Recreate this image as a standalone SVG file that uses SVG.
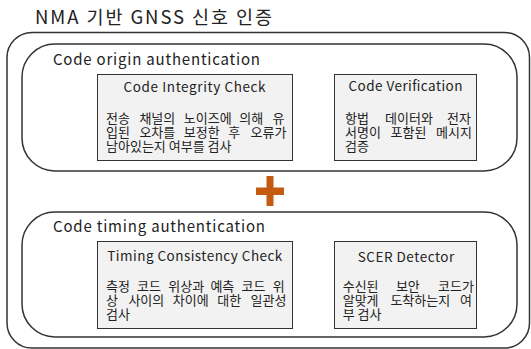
<svg xmlns="http://www.w3.org/2000/svg" width="531" height="349" viewBox="0 0 531 349">
<style>
text{font-family:"Noto Sans CJK KR","Noto Sans",sans-serif;fill:#222}
.frame{fill:none;stroke:#333;stroke-width:1.5}
.box{fill:#f2f2f2;stroke:#333;stroke-width:1}
.ttl{font-size:18.5px}
.sec{font-size:15px}
.bt{font-size:13.5px;text-anchor:middle}
.body{font-size:13px}
.plus{fill:#C55A11}
</style>
<rect width="531" height="349" fill="#fff"/>
<g id="outer">
<rect class="frame" x="7" y="32.5" width="522.5" height="315.5" rx="25" ry="25"/>
<text class="ttl" x="35" y="24" textLength="237">NMA 기반 GNSS 신호 인증</text>
</g>
<g id="origin">
<rect class="frame" x="22" y="44" width="495" height="127" rx="33" ry="33"/>
<text class="sec" x="53" y="65" textLength="207">Code origin authentication</text>
</g>
<g id="timing">
<rect class="frame" x="22" y="212" width="495" height="125" rx="33" ry="33"/>
<text class="sec" x="53" y="232" textLength="212">Code timing authentication</text>
</g>
<g id="integrity">
<rect class="box" x="97.5" y="74.5" width="195" height="86"/>
<text class="bt" x="194.5" y="91.5" textLength="142">Code Integrity Check</text>
<text class="body" y="123"><tspan x="106">전송</tspan><tspan x="139.4">채널의</tspan><tspan x="183.8">노이즈에</tspan><tspan x="239.2">의해</tspan><tspan x="272.6">유</tspan></text>
<text class="body" y="137"><tspan x="106">입된</tspan><tspan x="139.4">오차를</tspan><tspan x="183.8">보정한</tspan><tspan x="228.2">후</tspan><tspan x="250.6">오류가</tspan></text>
<text class="body" x="106" y="151">남아있는지 여부를 검사</text>
</g>
<g id="verification">
<rect class="box" x="334.5" y="74.5" width="142" height="86"/>
<text class="bt" x="405.5" y="91" textLength="114">Code Verification</text>
<text class="body" y="123"><tspan x="345">항법</tspan><tspan x="385">데이터와</tspan><tspan x="447">전자</tspan></text>
<text class="body" y="137"><tspan x="345">서명이</tspan><tspan x="390.5">포함된</tspan><tspan x="436">메시지</tspan></text>
<text class="body" x="345" y="151">검증</text>
</g>
<g id="consistency">
<rect class="box" x="97.5" y="241.5" width="195" height="87"/>
<text class="bt" x="194.8" y="261" textLength="175">Timing Consistency Check</text>
<text class="body" y="291"><tspan x="106">측정</tspan><tspan x="137.1">코드</tspan><tspan x="168.3">위상과</tspan><tspan x="210.4">예측</tspan><tspan x="241.6">코드</tspan><tspan x="272.7">위</tspan></text>
<text class="body" y="305"><tspan x="106">상</tspan><tspan x="128.4">사이의</tspan><tspan x="172.8">차이에</tspan><tspan x="217.2">대한</tspan><tspan x="250.6">일관성</tspan></text>
<text class="body" x="106" y="319">검사</text>
</g>
<g id="scer">
<rect class="box" x="334.5" y="241.5" width="142" height="87"/>
<text class="bt" x="406" y="261.5" textLength="96.5">SCER Detector</text>
<text class="body" y="290.5"><tspan x="342.7">수신된</tspan><tspan x="395.9">보안</tspan><tspan x="438.1">코드가</tspan></text>
<text class="body" y="304.5"><tspan x="342.7">알맞게</tspan><tspan x="390.4">도착하는지</tspan><tspan x="460">여</tspan></text>
<text class="body" x="342.7" y="318.5">부 검사</text>
</g>
<g id="connectors">
<g id="plus">
<rect class="plus" x="266.5" y="176" width="7" height="30"/>
<rect class="plus" x="256" y="187.5" width="28" height="7.5"/>
</g>
</g>
</svg>
